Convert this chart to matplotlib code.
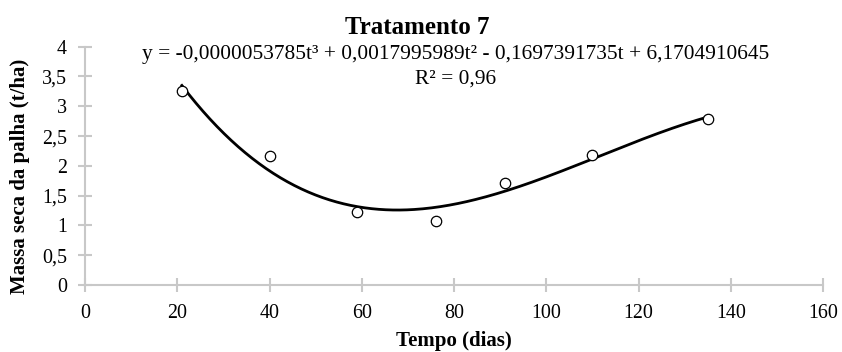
import numpy as np
import matplotlib
matplotlib.use("Agg")
import matplotlib.pyplot as plt

# Data
tempo = [21, 40, 59, 76, 91, 110, 135]
massa = [3.26, 2.16, 1.23, 1.07, 1.72, 2.19, 2.785]
coef = [-0.0000053785, 0.0017995989, -0.1697391735, 6.1704910645]
x_ticks = [0, 20, 40, 60, 80, 100, 120, 140, 160]
y_ticks = [0, 0.5, 1, 1.5, 2, 2.5, 3, 3.5, 4]
y_ticklabels = ["0", "0,5", "1", "1,5", "2", "2,5", "3", "3,5", "4"]

plt.rcParams['font.family'] = ['Liberation Serif', 'DejaVu Serif']

W, H = 842, 352
fig = plt.figure(figsize=(W / 100, H / 100), dpi=100)
ax = fig.add_axes([85 / W, 1 - 285 / H, (823 - 85) / W, (285 - 46.7) / H])

tt = np.linspace(min(tempo), max(tempo), 300)
ax.plot(tt, np.polyval(coef, tt), color='black', lw=2.0, zorder=2)
ax.plot(tempo, massa, linestyle='none', marker='o', markersize=7.5,
        markerfacecolor='white', markeredgecolor='black', markeredgewidth=0.9, zorder=3)

ax.set_xlim(0, 160)
ax.set_ylim(0, 4)
ax.set_xticks(x_ticks)
ax.set_xticklabels([str(v) for v in x_ticks])
ax.set_yticks(y_ticks)
ax.set_yticklabels(y_ticklabels)

grey = '#c8c8c8'
for s in ['top', 'right']:
    ax.spines[s].set_visible(False)
for s in ['left', 'bottom']:
    ax.spines[s].set_color(grey)
    ax.spines[s].set_linewidth(1.5)
ax.tick_params(axis='both', direction='inout', length=10, width=1.5, color=grey,
               labelsize=14.4, labelcolor='black')
ax.tick_params(axis='x', pad=9)
ax.tick_params(axis='y', pad=8)

ax.set_xlabel('Tempo (dias)', fontsize=15, fontweight='bold')
ax.xaxis.set_label_coords(0.5, -(331 - 285) / (285 - 46.7))
ax.set_ylabel('Massa seca da palha (t/ha)', fontsize=15, fontweight='bold')
ax.yaxis.set_label_coords(-(85 - 30) / (823 - 85), 0.457)

fig.text(417 / W, 1 - 27 / H, 'Tratamento 7', fontsize=18, fontweight='bold',
         ha='center', va='center')
fig.text(142 / W, 1 - 55 / H,
         'y = -0,0000053785t³ + 0,0017995989t² - 0,1697391735t + 6,1704910645',
         fontsize=15.4, ha='left', va='center')
fig.text(415 / W, 1 - 79 / H, 'R² = 0,96', fontsize=15.4, ha='left', va='center')

fig.savefig('out.png', dpi=100)
